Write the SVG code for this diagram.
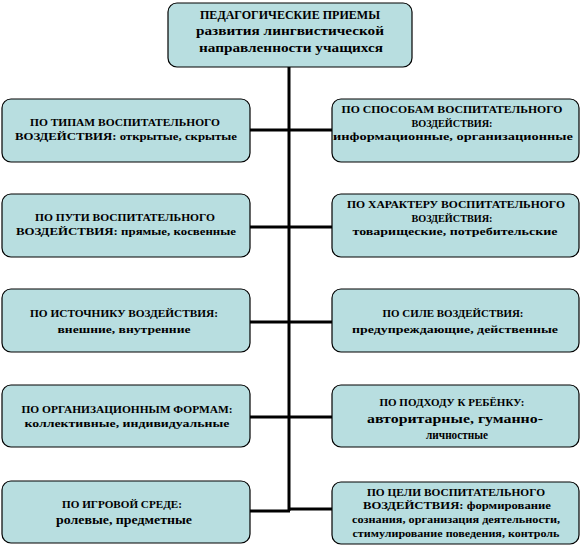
<svg xmlns="http://www.w3.org/2000/svg" width="582" height="546" viewBox="0 0 582 546">
<style>
.box{fill:#b8dee0;stroke:#000;stroke-width:1.2}
.t{font-family:"Liberation Serif","Times New Roman",serif;font-weight:bold;font-size:11px;fill:#000;text-anchor:middle}
.h{font-size:13.5px}
.s{font-size:10.5px}
.m{font-size:12px}
.ln{fill:none;stroke:#000;stroke-width:3}
</style>
<rect width="582" height="546" fill="#fff"/>
<g id="connectors">
<path class="ln" d="M289 67 V511"/>
<path class="ln" d="M250 130 H289 M289 130 H332"/>
<path class="ln" d="M250 227 H289 M289 227 H332"/>
<path class="ln" d="M250 322 H289 M289 322 H332"/>
<path class="ln" d="M250 417 H289 M289 417 H332"/>
<path class="ln" d="M250 511 H290 M289 509 H332"/>
</g>
<g id="root">
<rect class="box" x="168" y="3" width="244" height="64" rx="9"/>
<text class="t h" x="290" y="19" textLength="180" lengthAdjust="spacingAndGlyphs">ПЕДАГОГИЧЕСКИЕ ПРИЕМЫ</text>
<text class="t h" x="290" y="35" textLength="188" lengthAdjust="spacingAndGlyphs">развития лингвистической</text>
<text class="t h" x="291" y="52" textLength="184" lengthAdjust="spacingAndGlyphs">направленности учащихся</text>
</g>
<g id="l1">
<rect class="box" x="2" y="99" width="248" height="63" rx="9"/>
<text class="t" x="125" y="126" textLength="190" lengthAdjust="spacingAndGlyphs">ПО ТИПАМ  ВОСПИТАТЕЛЬНОГО</text>
<text class="t" x="126" y="140" textLength="222" lengthAdjust="spacingAndGlyphs">ВОЗДЕЙСТВИЯ: открытые, скрытые</text>
</g>
<g id="r1">
<rect class="box" x="332" y="99" width="247" height="63" rx="9"/>
<text class="t" x="452" y="113" textLength="221" lengthAdjust="spacingAndGlyphs">ПО СПОСОБАМ  ВОСПИТАТЕЛЬНОГО</text>
<text class="t" x="452" y="127" textLength="81" lengthAdjust="spacingAndGlyphs">ВОЗДЕЙСТВИЯ:</text>
<text class="t" x="453" y="140" textLength="240" lengthAdjust="spacingAndGlyphs">информационные, организационные</text>
</g>
<g id="l2">
<rect class="box" x="2" y="194" width="248" height="63" rx="9"/>
<text class="t" x="125" y="221" textLength="180" lengthAdjust="spacingAndGlyphs">ПО ПУТИ  ВОСПИТАТЕЛЬНОГО</text>
<text class="t" x="126" y="235" textLength="220" lengthAdjust="spacingAndGlyphs">ВОЗДЕЙСТВИЯ: прямые, косвенные</text>
</g>
<g id="r2">
<rect class="box" x="332" y="194" width="247" height="63" rx="9"/>
<text class="t" x="456" y="208" textLength="218" lengthAdjust="spacingAndGlyphs">ПО ХАРАКТЕРУ ВОСПИТАТЕЛЬНОГО</text>
<text class="t" x="452" y="222" textLength="81" lengthAdjust="spacingAndGlyphs">ВОЗДЕЙСТВИЯ:</text>
<text class="t" x="455" y="235" textLength="205" lengthAdjust="spacingAndGlyphs">товарищеские, потребительские</text>
</g>
<g id="l3">
<rect class="box" x="2" y="289" width="248" height="63" rx="9"/>
<text class="t" x="124" y="317" textLength="188" lengthAdjust="spacingAndGlyphs">ПО ИСТОЧНИКУ  ВОЗДЕЙСТВИЯ:</text>
<text class="t" x="124" y="333" textLength="133" lengthAdjust="spacingAndGlyphs">внешние, внутренние</text>
</g>
<g id="r3">
<rect class="box" x="332" y="289" width="247" height="63" rx="9"/>
<text class="t" x="453" y="317" textLength="141" lengthAdjust="spacingAndGlyphs">ПО СИЛЕ ВОЗДЕЙСТВИЯ:</text>
<text class="t" x="455" y="333" textLength="206" lengthAdjust="spacingAndGlyphs">предупреждающие, действенные</text>
</g>
<g id="l4">
<rect class="box" x="2" y="385" width="248" height="62" rx="9"/>
<text class="t" x="127" y="413" textLength="211" lengthAdjust="spacingAndGlyphs">ПО ОРГАНИЗАЦИОННЫМ ФОРМАМ:</text>
<text class="t" x="127" y="427" textLength="205" lengthAdjust="spacingAndGlyphs">коллективные, индивидуальные</text>
</g>
<g id="r4">
<rect class="box" x="332" y="385" width="247" height="62" rx="9"/>
<text class="t" x="452" y="406" textLength="145" lengthAdjust="spacingAndGlyphs">ПО ПОДХОДУ К РЕБЁНКУ:</text>
<text class="t m" x="455" y="423" textLength="176" lengthAdjust="spacingAndGlyphs">авторитарные,  гуманно-</text>
<text class="t m" x="457" y="439" textLength="62" lengthAdjust="spacingAndGlyphs">личностные</text>
</g>
<g id="l5">
<rect class="box" x="2" y="481" width="248" height="62" rx="9"/>
<text class="t" x="122" y="508" textLength="120" lengthAdjust="spacingAndGlyphs">ПО ИГРОВОЙ СРЕДЕ:</text>
<text class="t m" x="124" y="524" textLength="136" lengthAdjust="spacingAndGlyphs">ролевые, предметные</text>
</g>
<g id="r5">
<rect class="box" x="332" y="482" width="247" height="62" rx="9"/>
<text class="t s" x="456" y="496" textLength="178" lengthAdjust="spacingAndGlyphs">ПО ЦЕЛИ  ВОСПИТАТЕЛЬНОГО</text>
<text class="t s" x="457" y="509" textLength="188" lengthAdjust="spacingAndGlyphs">ВОЗДЕЙСТВИЯ: формирование</text>
<text class="t s" x="456" y="523" textLength="208" lengthAdjust="spacingAndGlyphs">сознания, организация деятельности,</text>
<text class="t s" x="456" y="537" textLength="207" lengthAdjust="spacingAndGlyphs">стимулирование поведения, контроль</text>
</g>
</svg>
